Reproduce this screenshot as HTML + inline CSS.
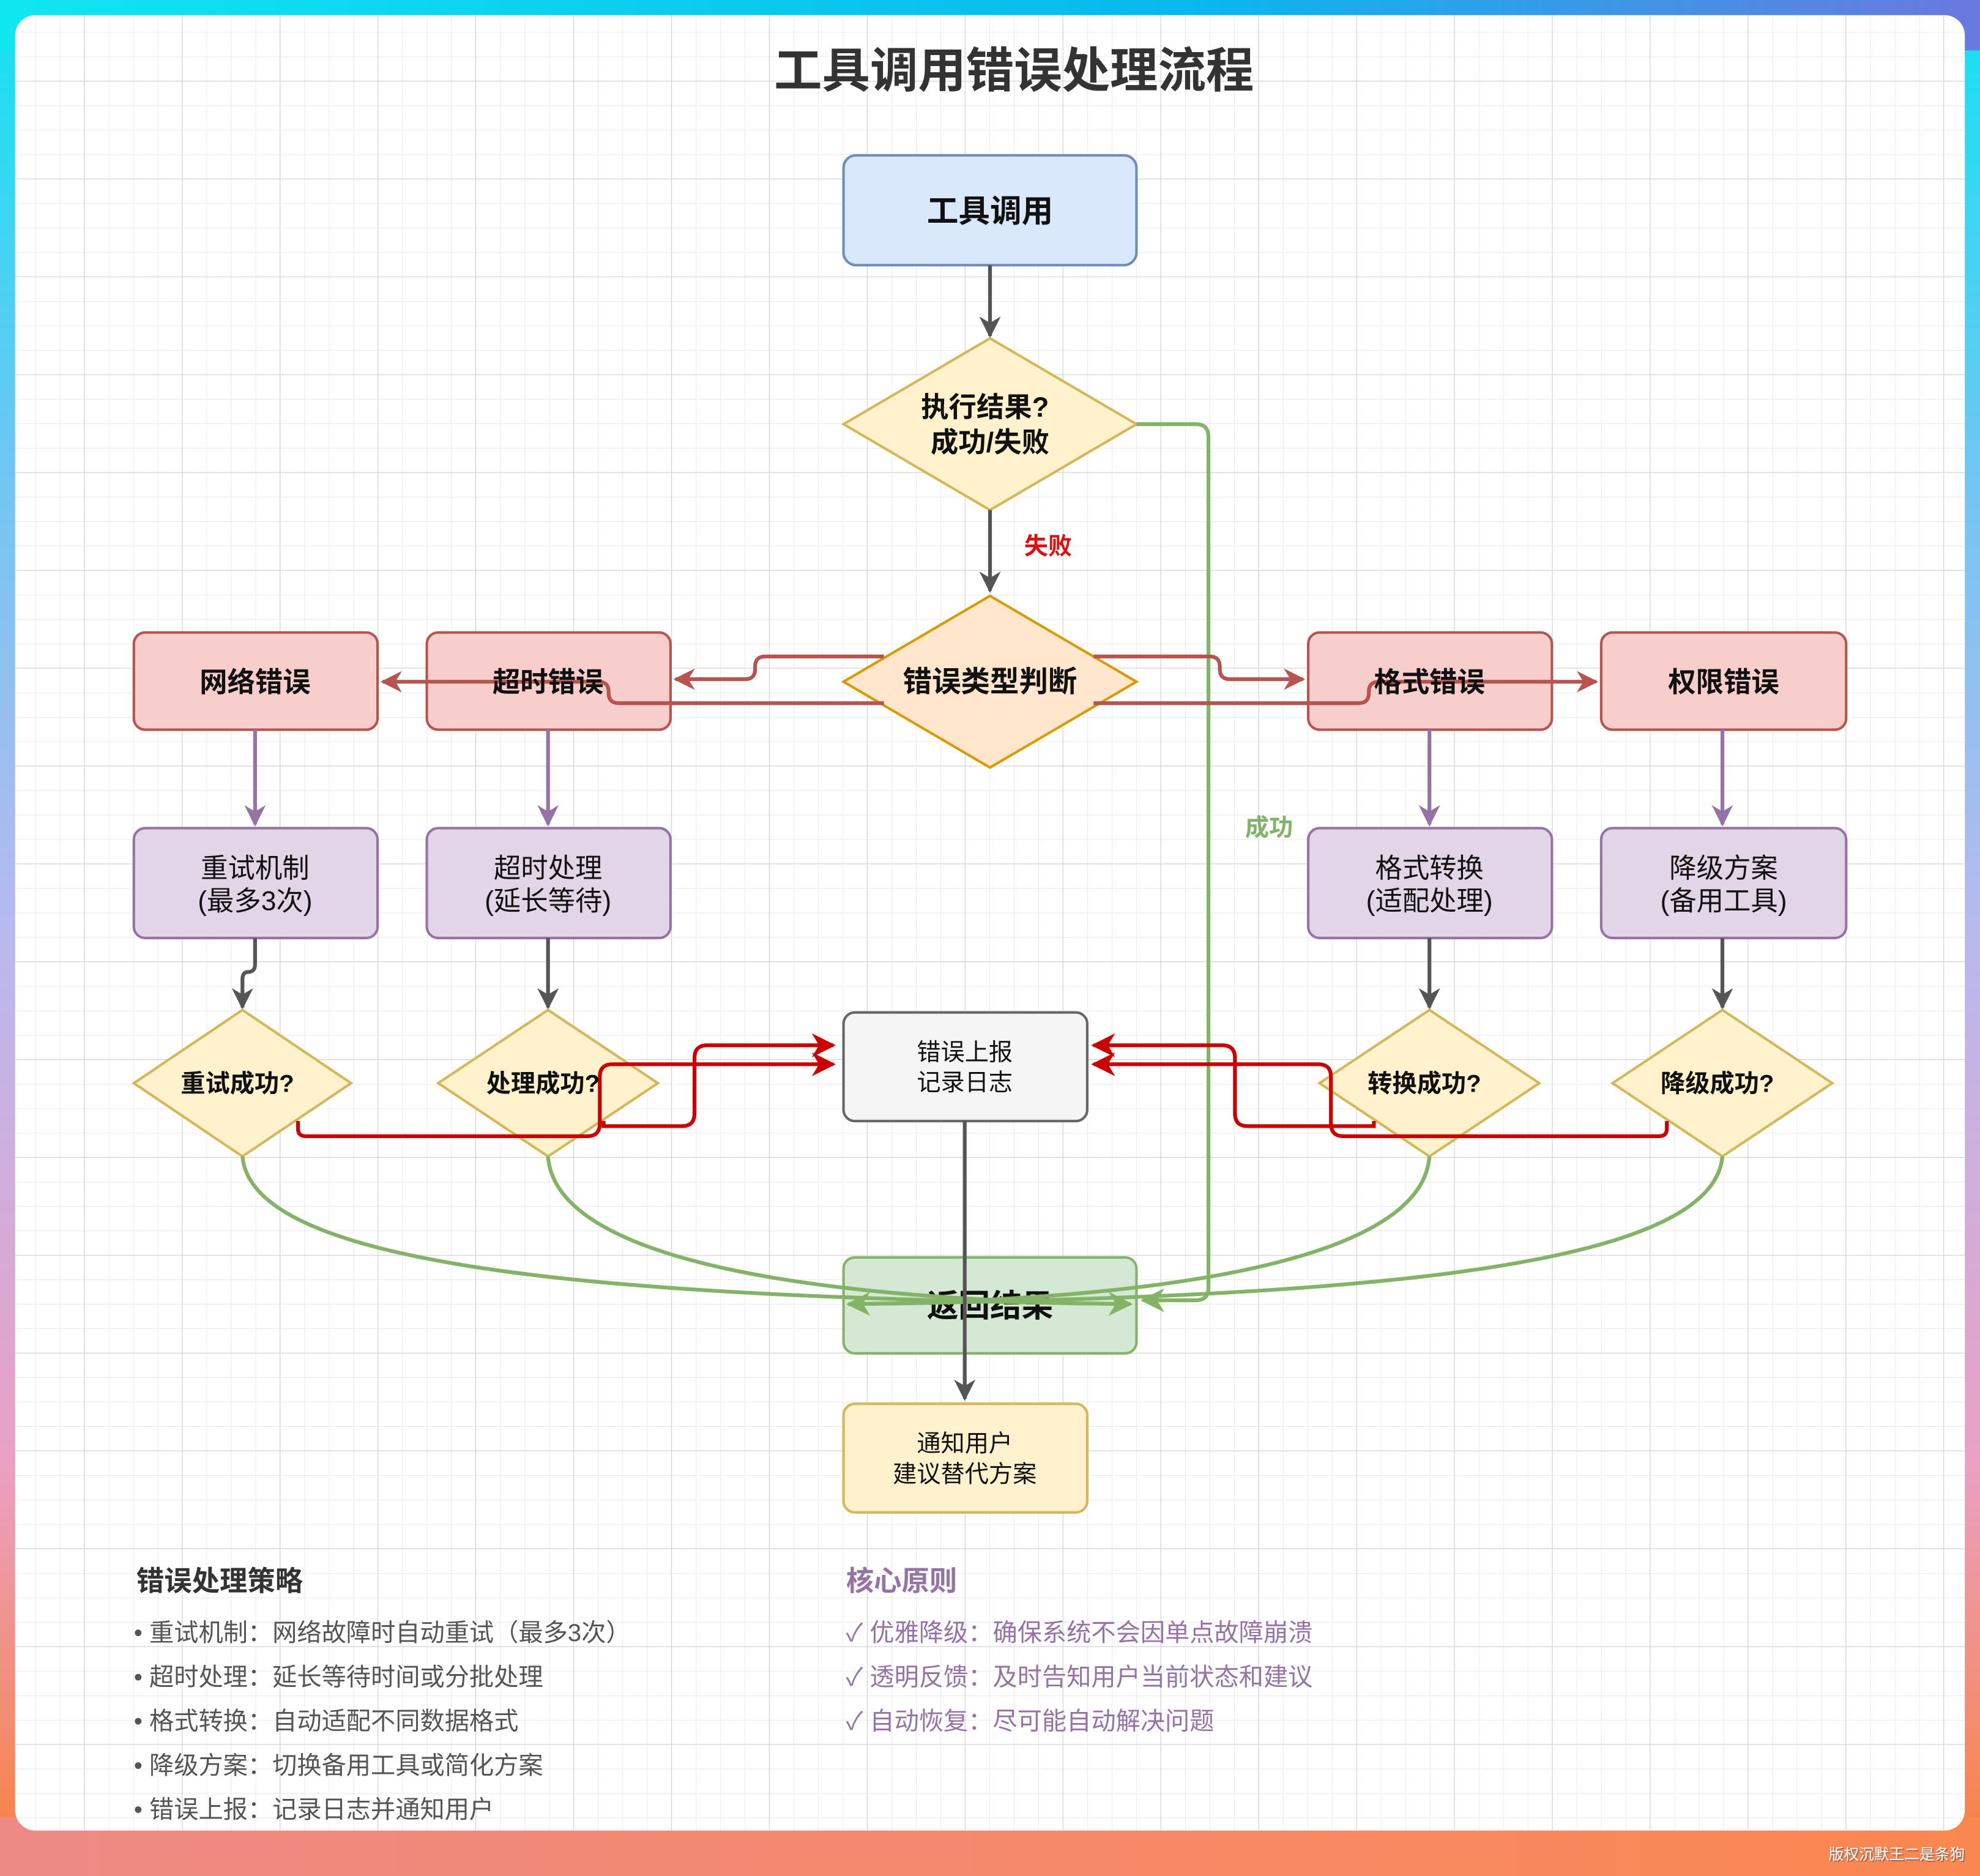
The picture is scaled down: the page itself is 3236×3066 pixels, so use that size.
<!DOCTYPE html>
<html><head><meta charset="utf-8"><style>
html,body{margin:0;padding:0;width:3236px;height:3066px;overflow:hidden}
body{background:linear-gradient(180deg,#12e2f2 0%,#6fc6f2 25%,#b9b9ee 50%,#eaa0c4 78%,#f7844e 97%,#f98a55 100%)}
svg{position:absolute;left:0;top:0}
text{font-family:"Liberation Sans","Noto Sans CJK SC",sans-serif}
</style></head><body>
<svg width="3236" height="3066" viewBox="0 0 1568 1486" preserveAspectRatio="none" xmlns="http://www.w3.org/2000/svg">
<defs>
<linearGradient id="tg" x1="0" y1="0" x2="1" y2="0"><stop offset="0" stop-color="#10e6f0"/><stop offset="0.6" stop-color="#08b8ee"/><stop offset="1" stop-color="#6a78e0"/></linearGradient>
<linearGradient id="bg" x1="0" y1="0" x2="1" y2="0"><stop offset="0" stop-color="#ee8a86"/><stop offset="1" stop-color="#fb8750"/></linearGradient>
<pattern id="minor" width="19.375" height="19.375" patternUnits="userSpaceOnUse" x="9" y="6.5"><path d="M19.375 0V19.375M0 19.375H19.375" stroke="#e6e6e6" stroke-width="0.8" fill="none"/></pattern>
<pattern id="major" width="77.5" height="77.5" patternUnits="userSpaceOnUse" x="-10.5" y="-13"><path d="M77.5 0V77.5M0 77.5H77.5" stroke="#d0d0d0" stroke-width="1" fill="none"/></pattern>
<clipPath id="card"><rect x="12" y="12" width="1544" height="1438" rx="16"/></clipPath>
<marker id="ag" viewBox="0 0 10 10" refX="9" refY="5" markerWidth="17" markerHeight="17" markerUnits="userSpaceOnUse" orient="auto"><path d="M0,0L10,5L0,10L3,5z" fill="#555"/></marker>
<marker id="ar" viewBox="0 0 10 10" refX="9" refY="5" markerWidth="17" markerHeight="17" markerUnits="userSpaceOnUse" orient="auto"><path d="M0,0L10,5L0,10L3,5z" fill="#b85450"/></marker>
<marker id="ap" viewBox="0 0 10 10" refX="9" refY="5" markerWidth="17" markerHeight="17" markerUnits="userSpaceOnUse" orient="auto"><path d="M0,0L10,5L0,10L3,5z" fill="#9673a6"/></marker>
<marker id="ad" viewBox="0 0 10 10" refX="9" refY="5" markerWidth="19" markerHeight="19" markerUnits="userSpaceOnUse" orient="auto"><path d="M0,0L10,5L0,10L3,5z" fill="#cc0000"/></marker>
<marker id="agr" viewBox="0 0 10 10" refX="9" refY="5" markerWidth="19" markerHeight="19" markerUnits="userSpaceOnUse" orient="auto"><path d="M0,0L10,5L0,10L3,5z" fill="#82b366"/></marker>
</defs>
<rect x="0" y="0" width="1568" height="40" fill="url(#tg)"/>
<rect x="0" y="1440" width="1568" height="46" fill="url(#bg)"/>
<rect x="12" y="12" width="1544" height="1438" rx="16" fill="#fff"/>
<g clip-path="url(#card)"><rect x="12" y="12" width="1544" height="1438" fill="url(#minor)"/><rect x="12" y="12" width="1544" height="1438" fill="url(#major)"/></g>

<text x="803" y="69" font-size="38" font-weight="bold" fill="#333" text-anchor="middle">工具调用错误处理流程</text>

<rect x="668" y="123" width="232" height="87" rx="10" fill="#dae8fc" stroke="#6c8ebf" stroke-width="2"/>
<text x="784" y="176" font-size="25" font-weight="bold" fill="#111" text-anchor="middle">工具调用</text>
<path d="M784 210V266" stroke="#555" stroke-width="3" fill="none" marker-end="url(#ag)"/>
<polygon points="784,268 900,336 784,404 668,336" fill="#fff2cc" stroke="#d6b656" stroke-width="2"/>
<text x="780" y="330" font-size="22" font-weight="bold" fill="#111" text-anchor="middle">执行结果?</text>
<text x="784" y="358" font-size="22" font-weight="bold" fill="#111" text-anchor="middle">成功/失败</text>
<path d="M784 404V468" stroke="#555" stroke-width="3" fill="none" marker-end="url(#ag)"/>
<text x="830" y="439" font-size="19" font-weight="bold" fill="#dd1111" text-anchor="middle">失败</text>

<path d="M900 336H947Q957 336 957 346V1020Q957 1030 947 1030H905" stroke="#82b366" stroke-width="3" fill="none" marker-end="url(#agr)"/>
<text x="1005" y="662" font-size="19" font-weight="bold" fill="#82b366" text-anchor="middle">成功</text>

<rect x="106" y="501" width="193" height="77" rx="9" fill="#f8cecc" stroke="#b85450" stroke-width="2"/>
<rect x="338" y="501" width="193" height="77" rx="9" fill="#f8cecc" stroke="#b85450" stroke-width="2"/>
<rect x="1036" y="501" width="193" height="77" rx="9" fill="#f8cecc" stroke="#b85450" stroke-width="2"/>
<rect x="1268" y="501" width="194" height="77" rx="9" fill="#f8cecc" stroke="#b85450" stroke-width="2"/>
<polygon points="784,472 900,540 784,608 668,540" fill="#ffe6cc" stroke="#d79b00" stroke-width="2"/>
<g stroke="#b85450" stroke-width="3" fill="none">
<path d="M700 520H606Q598 520 598 528V530Q598 538 590 538H535" marker-end="url(#ar)"/>
<path d="M700 557H490Q482 557 482 549V548Q482 540 474 540H303" marker-end="url(#ar)"/>
<path d="M866 520H958Q966 520 966 528V530Q966 538 974 538H1032" marker-end="url(#ar)"/>
<path d="M866 557H1076Q1084 557 1084 549V548Q1084 540 1092 540H1264" marker-end="url(#ar)"/>
</g>
<g font-size="22" font-weight="bold" fill="#111" text-anchor="middle">
<text x="202" y="548">网络错误</text><text x="434" y="548">超时错误</text>
<text x="1132" y="548">格式错误</text><text x="1365" y="548">权限错误</text>
<text x="784" y="548" font-size="23">错误类型判断</text>
</g>

<g stroke="#9673a6" stroke-width="3" fill="none">
<path d="M202 578V653" marker-end="url(#ap)"/><path d="M434 578V653" marker-end="url(#ap)"/>
<path d="M1132 578V653" marker-end="url(#ap)"/><path d="M1364 578V653" marker-end="url(#ap)"/>
</g>
<g fill="#e1d5e7" stroke="#9673a6" stroke-width="2">
<rect x="106" y="656" width="193" height="87" rx="9"/><rect x="338" y="656" width="193" height="87" rx="9"/>
<rect x="1036" y="656" width="193" height="87" rx="9"/><rect x="1268" y="656" width="194" height="87" rx="9"/>
</g>
<g font-size="21.5" fill="#111" text-anchor="middle">
<text x="202" y="695">重试机制</text><text x="202" y="721">(最多3次)</text>
<text x="434" y="695">超时处理</text><text x="434" y="721">(延长等待)</text>
<text x="1132" y="695">格式转换</text><text x="1132" y="721">(适配处理)</text>
<text x="1365" y="695">降级方案</text><text x="1365" y="721">(备用工具)</text>
</g>
<g stroke="#555" stroke-width="3" fill="none">
<path d="M202 743V764Q202 770 196 770Q192 770 192 776V798" marker-end="url(#ag)"/>
<path d="M434 743V798" marker-end="url(#ag)"/><path d="M1132 743V798" marker-end="url(#ag)"/><path d="M1364 743V798" marker-end="url(#ag)"/>
</g>

<g fill="#fff2cc" stroke="#d6b656" stroke-width="2">
<polygon points="192,800 278,858 192,916 106,858"/>
<polygon points="434,800 521,858 434,916 347,858"/>
<polygon points="1132,800 1219,858 1132,916 1045,858"/>
<polygon points="1364,800 1451,858 1364,916 1277,858"/>
</g>
<rect x="668" y="802" width="193" height="86" rx="9" fill="#f5f5f5" stroke="#666" stroke-width="2"/>
<g font-size="19" fill="#111" text-anchor="middle">
<text x="764" y="840">错误上报</text><text x="764" y="864">记录日志</text>
</g>
<g stroke="#cc0000" stroke-width="3" fill="none">
<path d="M236 888V894Q236 900 242 900H465Q475 900 475 890V853Q475 843 485 843H660" marker-end="url(#ad)"/>
<path d="M478 888V892H540Q550 892 550 882V838Q550 828 560 828H660" marker-end="url(#ad)"/>
<path d="M1088 888V892H988Q978 892 978 882V838Q978 828 968 828H866" marker-end="url(#ad)"/>
<path d="M1320 888V894Q1320 900 1314 900H1064Q1054 900 1054 890V853Q1054 843 1044 843H866" marker-end="url(#ad)"/>
</g>
<g font-size="19.5" font-weight="bold" fill="#111" text-anchor="middle">
<text x="188" y="865">重试成功?</text><text x="430" y="865">处理成功?</text>
<text x="1128" y="865">转换成功?</text><text x="1360" y="865">降级成功?</text>
</g>

<rect x="668" y="996" width="232" height="76" rx="9" fill="#d5e8d4" stroke="#82b366" stroke-width="2"/>
<text x="784" y="1043" font-size="25" font-weight="bold" fill="#111" text-anchor="middle">返回结果</text>
<g stroke="#82b366" stroke-width="3" fill="none">
<path d="M192 916C200 1010 520 1028 895 1033" marker-end="url(#agr)"/>
<path d="M434 916C440 1000 650 1030 895 1033" marker-end="url(#agr)"/>
<path d="M1132 916C1126 1000 915 1030 672 1033" marker-end="url(#agr)"/>
<path d="M1364 916C1356 1010 1040 1028 672 1033" marker-end="url(#agr)"/>
</g>
<path d="M764 888V1108" stroke="#555" stroke-width="3" fill="none" marker-end="url(#ag)"/>
<rect x="668" y="1112" width="193" height="86" rx="9" fill="#fff2cc" stroke="#d6b656" stroke-width="2"/>
<g font-size="19" fill="#111" text-anchor="middle">
<text x="764" y="1150">通知用户</text><text x="764" y="1174">建议替代方案</text>
</g>

<text x="108" y="1260" font-size="22" font-weight="bold" fill="#333">错误处理策略</text>
<g font-size="19.5" fill="#555">
<text x="106" y="1300">• 重试机制：网络故障时自动重试（最多3次）</text>
<text x="106" y="1335">• 超时处理：延长等待时间或分批处理</text>
<text x="106" y="1370">• 格式转换：自动适配不同数据格式</text>
<text x="106" y="1405">• 降级方案：切换备用工具或简化方案</text>
<text x="106" y="1440">• 错误上报：记录日志并通知用户</text>
</g>
<text x="670" y="1260" font-size="22" font-weight="bold" fill="#9673a6">核心原则</text>
<g font-size="19.5" fill="#9673a6">
<text x="670" y="1300">✓ 优雅降级：确保系统不会因单点故障崩溃</text>
<text x="670" y="1335">✓ 透明反馈：及时告知用户当前状态和建议</text>
<text x="670" y="1370">✓ 自动恢复：尽可能自动解决问题</text>
</g>
<text x="1556" y="1473" font-size="12" fill="#555" text-anchor="end" opacity="0.6" transform="translate(1,1)">版权沉默王二是条狗</text>
<text x="1556" y="1473" font-size="12" fill="#fff" text-anchor="end">版权沉默王二是条狗</text>
</svg>
</body></html>
